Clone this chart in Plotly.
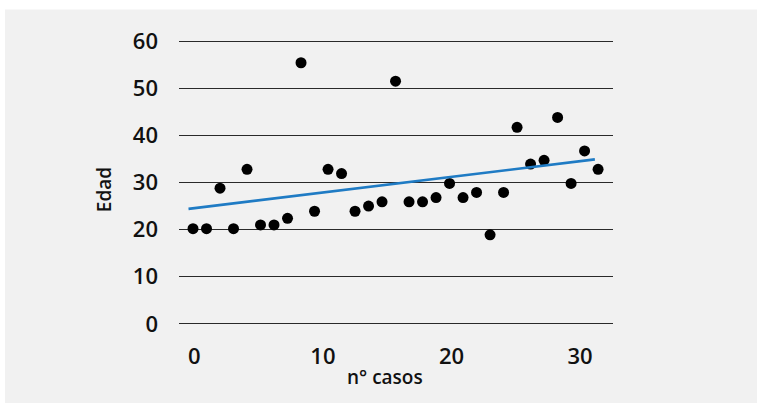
import plotly.graph_objects as go

# Data
casos = [-0.1, 0.95, 2.0, 3.05, 4.1, 5.15, 6.2, 7.25, 8.3, 9.35, 10.4, 11.45, 12.5,
         13.55, 14.6, 15.65, 16.7, 17.75, 18.8, 19.85, 20.9, 21.95, 23.0, 24.05,
         25.1, 26.15, 27.2, 28.25, 29.3, 30.35, 31.4]
edad = [20.2, 20.2, 28.8, 20.2, 32.8, 21.0, 21.0, 22.4, 55.4, 23.9, 32.8, 31.9, 23.9,
        25.0, 25.9, 51.5, 25.9, 25.9, 26.8, 29.8, 26.8, 27.9, 18.9, 27.9,
        41.7, 33.9, 34.7, 43.8, 29.8, 36.7, 32.8]
trend_x = [-0.45, 31.15]
trend_y = [24.4, 34.9]
x_ticks = [0, 10, 20, 30]
y_ticks = [0, 10, 20, 30, 40, 50, 60]

W, H = 757, 403
L, R = 179, 613
Y60, Y0 = 40.7, 324
pxu = (Y0 - Y60) / 60.0
T = Y60 - 1.5 * pxu
B = Y0 + 1.5 * pxu

fig = go.Figure()
fig.add_trace(go.Scatter(x=casos, y=edad, mode="markers",
                         marker=dict(size=11, color="#000000"),
                         showlegend=False, cliponaxis=False))
fig.add_trace(go.Scatter(x=trend_x, y=trend_y, mode="lines",
                         line=dict(color="#1f7bc4", width=2.6),
                         showlegend=False))

font = "Open Sans"
fig.update_layout(
    width=W, height=H,
    margin=dict(l=L, r=W - R, t=T, b=H - B, pad=0),
    paper_bgcolor="#ffffff",
    plot_bgcolor="rgba(0,0,0,0)",
    font=dict(family=font, color="#111111"),
    xaxis=dict(range=[-1.19, 32.56], tickvals=x_ticks, showgrid=False, zeroline=False,
               showline=False, ticks="", ticklabelstandoff=10,
               tickfont=dict(family=font, size=22, weight=600, color="#111111")),
    yaxis=dict(range=[-1.5, 61.5], tickvals=y_ticks, showgrid=True,
               gridcolor="#2a2a2a", gridwidth=1.3, zeroline=False, showline=False,
               ticks="", ticklabelstandoff=20,
               tickfont=dict(family=font, size=22, weight=600, color="#111111")),
    shapes=[dict(type="rect", xref="paper", yref="paper", layer="below",
                 x0=(5 - L) / (R - L), x1=(W + 5 - L) / (R - L),
                 y0=(B - H - 5) / (B - T), y1=(B - 9) / (B - T),
                 fillcolor="#f1f1f1", line=dict(width=0))],
    annotations=[
        dict(text="n° casos", xref="paper", yref="paper",
             x=(384.5 - L) / (R - L), y=(B - 377) / (B - T),
             showarrow=False, xanchor="center", yanchor="middle",
             font=dict(family=font, size=19, weight=600, color="#111111")),
        dict(text="Edad", xref="paper", yref="paper", textangle=-90,
             x=(104 - L) / (R - L), y=(B - 190) / (B - T),
             showarrow=False, xanchor="center", yanchor="middle",
             font=dict(family=font, size=19, weight=600, color="#111111")),
    ],
)

fig.write_html("out.html", config={"displayModeBar": False},
               post_script="document.body.style.margin='0';document.body.style.overflow='hidden';")
